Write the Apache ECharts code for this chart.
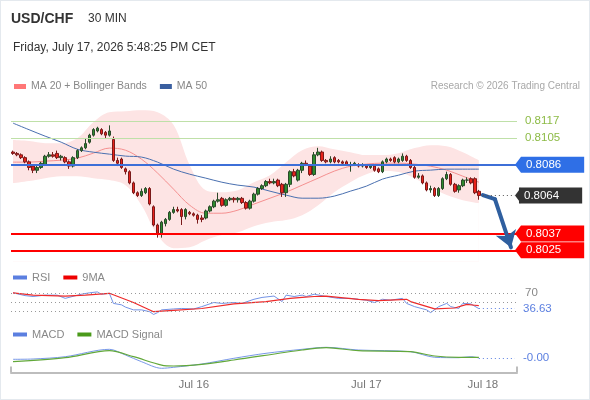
<!DOCTYPE html>
<html>
<head>
<meta charset="utf-8">
<script src="https://cdn.jsdelivr.net/npm/echarts@6/dist/echarts.min.js"></script>
<style>
  html, body { margin: 0; padding: 0; background: #fff; }
  #chart { width: 590px; height: 400px; }
  #frame { position: absolute; left: 0; top: 0; width: 590px; height: 400px; box-sizing: border-box;
           border: 1px solid #e4e9ee; pointer-events: none; }
</style>
</head>
<body>
<div id="chart"></div>
<div id="frame"></div>
<script>
const FONT = "'Liberation Sans', Arial, sans-serif";

// 30 min slots on the time axis (candles + room for the projection)
const slotCount = 126;
const dayTickSlots = [45, 88, 117];
const dayTickLabels = ['Jul 16', 'Jul 17', 'Jul 18'];

// [open, close, low, high]
const candles = [
  [0.8095, 0.8094, 0.8093, 0.8096], [0.8094, 0.8093, 0.8092, 0.8095], [0.8093, 0.8091, 0.8090, 0.8094],
  [0.8091, 0.8088, 0.8087, 0.8092], [0.8088, 0.8084, 0.8082, 0.8089], [0.8085, 0.8082, 0.8080, 0.8086],
  [0.8082, 0.8084, 0.8080, 0.8086], [0.8084, 0.8087, 0.8083, 0.8088], [0.8086, 0.8092, 0.8085, 0.8093],
  [0.8092, 0.8093, 0.8091, 0.8095], [0.8093, 0.8092, 0.8091, 0.8095], [0.8094, 0.8091, 0.8090, 0.8096],
  [0.8091, 0.8092, 0.8089, 0.8093], [0.8091, 0.8088, 0.8087, 0.8092], [0.8088, 0.8085, 0.8083, 0.8089],
  [0.8085, 0.8091, 0.8084, 0.8092], [0.8091, 0.8096, 0.8090, 0.8097], [0.8096, 0.8098, 0.8095, 0.8099],
  [0.8098, 0.8101, 0.8097, 0.8105], [0.8102, 0.8107, 0.8101, 0.8108], [0.8107, 0.8111, 0.8106, 0.8112],
  [0.8110, 0.8112, 0.8109, 0.8113], [0.8111, 0.8108, 0.8107, 0.8112], [0.8109, 0.8107, 0.8105, 0.8110],
  [0.8107, 0.8110, 0.8106, 0.8114], [0.8104, 0.8089, 0.8088, 0.8106], [0.8089, 0.8087, 0.8085, 0.8091],
  [0.8090, 0.8084, 0.8083, 0.8091], [0.8083, 0.8081, 0.8079, 0.8084], [0.8081, 0.8073, 0.8072, 0.8082],
  [0.8073, 0.8066, 0.8065, 0.8074], [0.8066, 0.8064, 0.8063, 0.8067], [0.8064, 0.8067, 0.8063, 0.8069],
  [0.8066, 0.8069, 0.8065, 0.8070], [0.8069, 0.8058, 0.8057, 0.8070], [0.8056, 0.8043, 0.8042, 0.8057],
  [0.8043, 0.8037, 0.8034, 0.8044], [0.8037, 0.8045, 0.8034, 0.8046], [0.8044, 0.8047, 0.8042, 0.8048],
  [0.8047, 0.8052, 0.8046, 0.8053], [0.8052, 0.8054, 0.8051, 0.8056], [0.8054, 0.8053, 0.8052, 0.8056],
  [0.8054, 0.8049, 0.8043, 0.8055], [0.8049, 0.8054, 0.8047, 0.8055], [0.8052, 0.8051, 0.8050, 0.8053],
  [0.8051, 0.8050, 0.8049, 0.8052], [0.8050, 0.8047, 0.8044, 0.8051], [0.8048, 0.8047, 0.8045, 0.8050],
  [0.8048, 0.8053, 0.8047, 0.8054], [0.8053, 0.8056, 0.8052, 0.8057], [0.8056, 0.8060, 0.8055, 0.8061],
  [0.8060, 0.8061, 0.8059, 0.8066], [0.8062, 0.8057, 0.8056, 0.8063], [0.8057, 0.8061, 0.8056, 0.8062],
  [0.8061, 0.8062, 0.8060, 0.8063], [0.8062, 0.8061, 0.8059, 0.8063], [0.8061, 0.8062, 0.8059, 0.8063],
  [0.8062, 0.8059, 0.8058, 0.8063], [0.8059, 0.8055, 0.8054, 0.8060], [0.8055, 0.8060, 0.8054, 0.8061],
  [0.8060, 0.8065, 0.8059, 0.8066], [0.8065, 0.8069, 0.8064, 0.8070], [0.8069, 0.8071, 0.8068, 0.8072],
  [0.8071, 0.8074, 0.8070, 0.8075], [0.8074, 0.8073, 0.8072, 0.8076], [0.8073, 0.8074, 0.8072, 0.8076],
  [0.8075, 0.8071, 0.8070, 0.8076], [0.8072, 0.8066, 0.8063, 0.8073], [0.8066, 0.8072, 0.8063, 0.8073],
  [0.8072, 0.8081, 0.8070, 0.8082], [0.8081, 0.8078, 0.8077, 0.8083], [0.8075, 0.8082, 0.8074, 0.8083],
  [0.8082, 0.8087, 0.8080, 0.8088], [0.8087, 0.8086, 0.8085, 0.8089], [0.8085, 0.8079, 0.8078, 0.8086],
  [0.8079, 0.8093, 0.8078, 0.8095], [0.8093, 0.8095, 0.8092, 0.8098], [0.8095, 0.8089, 0.8088, 0.8096],
  [0.8089, 0.8088, 0.8087, 0.8090], [0.8088, 0.8090, 0.8087, 0.8092], [0.8091, 0.8088, 0.8087, 0.8092],
  [0.8089, 0.8088, 0.8087, 0.8090], [0.8088, 0.8087, 0.8086, 0.8089], [0.8088, 0.8086, 0.8085, 0.8089],
  [0.8086, 0.8086, 0.8081, 0.8088], [0.8086, 0.8087, 0.8085, 0.8088], [0.8086, 0.8085, 0.8084, 0.8087],
  [0.8085, 0.8086, 0.8084, 0.8087], [0.8085, 0.8084, 0.8083, 0.8086], [0.8084, 0.8085, 0.8083, 0.8086],
  [0.8085, 0.8082, 0.8081, 0.8086], [0.8083, 0.8081, 0.8080, 0.8084], [0.8081, 0.8088, 0.8080, 0.8089],
  [0.8088, 0.8090, 0.8087, 0.8091], [0.8090, 0.8089, 0.8088, 0.8091], [0.8091, 0.8088, 0.8087, 0.8092],
  [0.8088, 0.8090, 0.8087, 0.8091], [0.8089, 0.8092, 0.8088, 0.8094], [0.8092, 0.8089, 0.8088, 0.8093],
  [0.8089, 0.8084, 0.8083, 0.8090], [0.8084, 0.8077, 0.8076, 0.8085], [0.8077, 0.8078, 0.8076, 0.8080],
  [0.8078, 0.8073, 0.8072, 0.8079], [0.8073, 0.8068, 0.8067, 0.8074], [0.8068, 0.8069, 0.8066, 0.8071],
  [0.8069, 0.8064, 0.8063, 0.8070], [0.8064, 0.8069, 0.8063, 0.8070], [0.8069, 0.8076, 0.8068, 0.8077],
  [0.8076, 0.8079, 0.8075, 0.8081], [0.8079, 0.8072, 0.8071, 0.8080], [0.8072, 0.8067, 0.8066, 0.8073],
  [0.8068, 0.8071, 0.8066, 0.8072], [0.8071, 0.8075, 0.8070, 0.8076], [0.8075, 0.8075, 0.8073, 0.8077],
  [0.8076, 0.8073, 0.8072, 0.8077], [0.8076, 0.8066, 0.8065, 0.8077], [0.8067, 0.8064, 0.8061, 0.8068]
];

// indicator readings, sampled every 4th slot
const bandSlots = [0, 4, 8, 12, 16, 20, 24, 28, 32, 36, 40, 44, 48, 52, 56, 60, 64, 68, 72, 76, 80, 84, 88, 92, 96, 100, 104, 108, 112, 116];
const ma20 = [0.80878, 0.80878, 0.80885, 0.80892, 0.80906, 0.80942, 0.80978, 0.80963, 0.80899, 0.80800,
  0.80685, 0.80571, 0.80514, 0.80514, 0.80536, 0.80579, 0.80621, 0.80664, 0.80714, 0.80764,
  0.80814, 0.80849, 0.80864, 0.80871, 0.80871, 0.80864, 0.80849, 0.80821, 0.80778, 0.80735];
const bbUpper = [0.81035, 0.81028, 0.81013, 0.81013, 0.81049, 0.81163, 0.81234, 0.81241, 0.81248, 0.81234,
  0.81142, 0.80856, 0.80678, 0.80664, 0.80678, 0.80735, 0.80785, 0.80878, 0.80963, 0.80992,
  0.80970, 0.80949, 0.80928, 0.80928, 0.80942, 0.80978, 0.80999, 0.80992, 0.80949, 0.80892];
const bbLower = [0.80728, 0.80743, 0.80764, 0.80778, 0.80778, 0.80764, 0.80750, 0.80714, 0.80571, 0.80358,
  0.80265, 0.80272, 0.80322, 0.80358, 0.80379, 0.80422, 0.80450, 0.80465, 0.80500, 0.80571,
  0.80664, 0.80735, 0.80792, 0.80814, 0.80807, 0.80764, 0.80700, 0.80643, 0.80607, 0.80586];
const ma50 = [0.81156, 0.81109, 0.81063, 0.81020, 0.80970, 0.80949, 0.80935, 0.80921, 0.80914, 0.80878,
  0.80828, 0.80792, 0.80764, 0.80735, 0.80714, 0.80700, 0.80671, 0.80643, 0.80621, 0.80621,
  0.80636, 0.80671, 0.80707, 0.80757, 0.80785, 0.80814, 0.80821, 0.80828, 0.80828, 0.80828];

// [slot, value]
const rsi = [[0, 71], [3, 65], [5, 63], [8, 66], [11, 66], [13, 59], [17, 68], [19, 71], [21, 73], [22, 68],
  [24, 70], [25, 48], [27, 45], [28, 40], [30, 34], [32, 34], [34, 30], [35, 24], [36, 28], [37, 34],
  [40, 36], [42, 37], [45, 36], [47, 41], [50, 50], [52, 48], [55, 50], [57, 48], [60, 57], [62, 61],
  [65, 64], [67, 52], [68, 66], [70, 63], [72, 66], [73, 63], [75, 68], [78, 63], [81, 59], [84, 59],
  [88, 55], [90, 50], [92, 57], [94, 55], [97, 59], [98, 48], [100, 41], [103, 34], [104, 28], [106, 41],
  [108, 48], [109, 41], [111, 37], [112, 48], [114, 47], [116, 36.63]];
const rsiMa9 = [[0, 71], [5, 66], [13, 64], [18, 66], [24, 70], [30, 50], [35, 30], [40, 33], [47, 37],
  [55, 47], [63, 52], [69, 59], [72, 61], [75, 63], [78, 64], [86, 57], [91, 54], [98, 57], [99, 52],
  [105, 36], [110, 38], [113, 46], [115, 44], [116, 43]];
const macd = [[0, -0.00008], [5, -0.000065], [13, 0.00005], [24, 0.00042], [28, 0.000135], [32, -0.0002],
  [37, -0.00053], [40, -0.00048], [47, -0.000315], [55, -0.00003], [63, 0.00022], [72, 0.00042],
  [78, 0.00052], [86, 0.000385], [99, 0.0003], [105, 0.00002], [111, 0], [114, 0.00005], [116, -0.00001]];
const macdSignal = [[0, -0.0002], [13, 0], [24, 0.00035], [30, 0.00005], [37, -0.00037], [40, -0.000415],
  [47, -0.00033], [55, -0.000115], [72, 0.000385], [78, 0.0005], [86, 0.00035], [99, 0.0003],
  [105, 0.000085], [111, 0.00002], [116, 0.00002]];

// levels and projection
const resistLevels = [0.8117, 0.8105];
const pivotLevel = 0.8086;
const lastPrice = 0.8064;
const supportLevels = [0.8037, 0.8025];
const projection = [[117, 0.80643], [120, 0.80614], [124, 0.8027]];

const categories = Array.from({ length: slotCount }, (_, i) => String(i));
const lastSlot = candles.length - 1;
const endSlot = slotCount - 1;
const pairs = (slots, vals) => slots.map((s, i) => [s, vals[i]]);

const BLUE_TAG = '#2f6fe6', RED_TAG = '#ff0000', DARK_TAG = '#333333';

const tag = (text, bg) => ({
  show: true, position: 'end', distance: 4, formatter: text, color: '#fff', backgroundColor: bg,
  padding: [2, 23, 2, 5], fontSize: 11.5, lineHeight: 12, fontFamily: FONT
});
const plainLabel = (text, color) => ({
  show: true, position: 'end', distance: 8, formatter: text, color: color, fontSize: 11.5, fontFamily: FONT
});
// little arrow tip on the left of each price tag
const tagTip = (slot, value, color) => ({
  coord: [slot, value], symbol: 'triangle', symbolRotate: 90, symbolSize: [16, 6],
  symbolOffset: [3, 0], itemStyle: { color: color }, label: { show: false }
});

const chart = echarts.init(document.getElementById('chart'), null, { renderer: 'canvas' });

const gridBase = { left: 11, right: 73 };
const hiddenX = (g) => ({ type: 'category', gridIndex: g, data: categories, boundaryGap: true, show: false });

const option = {
  animation: false,
  backgroundColor: '#fff',
  textStyle: { fontFamily: FONT },
  title: [
    { text: 'USD/CHF', left: 11, top: 12, padding: 0, textStyle: { fontSize: 14, fontWeight: 'bold', color: '#333', fontFamily: FONT } },
    { text: '30 MIN', left: 88, top: 13, padding: 0, textStyle: { fontSize: 12, fontWeight: 'normal', color: '#333', fontFamily: FONT } },
    { text: 'Friday, July 17, 2026 5:48:25 PM CET', left: 13, top: 42, padding: 0, textStyle: { fontSize: 12, fontWeight: 'normal', color: '#333', fontFamily: FONT } },
    { text: 'Research © 2026 Trading Central', right: 10, top: 81, padding: 0, textStyle: { fontSize: 10, fontWeight: 'normal', color: '#a8a8a8', fontFamily: FONT } }
  ],
  legend: [
    { left: 14, top: 81, padding: 0, itemWidth: 12, itemHeight: 5, itemGap: 13, icon: 'rect', selectedMode: false,
      textStyle: { color: '#888', fontSize: 10.5, fontFamily: FONT },
      data: [{ name: 'MA 20 + Bollinger Bands', itemStyle: { color: '#f77' } }, { name: 'MA 50', itemStyle: { color: '#3a5fa0' } }] },
    { left: 13, top: 272, padding: 0, itemWidth: 14, itemHeight: 4, itemGap: 13, icon: 'rect', selectedMode: false,
      textStyle: { color: '#888', fontSize: 11, fontFamily: FONT },
      data: [{ name: 'RSI', itemStyle: { color: '#5b7fe0' } }, { name: '9MA', itemStyle: { color: '#e00' } }] },
    { left: 13, top: 329, padding: 0, itemWidth: 14, itemHeight: 4, itemGap: 13, icon: 'rect', selectedMode: false,
      textStyle: { color: '#888', fontSize: 11, fontFamily: FONT },
      data: [{ name: 'MACD', itemStyle: { color: '#5b7fe0' } }, { name: 'MACD Signal', itemStyle: { color: '#4a9a1a' } }] }
  ],
  grid: [
    Object.assign({ top: 101.5, height: 160 }, gridBase),
    Object.assign({ top: 279.5, height: 46 }, gridBase),
    Object.assign({ top: 345.7, height: 26.8 }, gridBase)
  ],
  xAxis: [
    hiddenX(0),
    hiddenX(1),
    {
      type: 'category', gridIndex: 2, data: categories, boundaryGap: true,
      axisLine: { show: true, onZero: false, lineStyle: { color: '#bdbdbd', width: 2 } },
      axisTick: { show: true, inside: true, length: 6, lineStyle: { color: '#bdbdbd', width: 2 },
        interval: (idx) => idx === 0 || idx >= slotCount },
      axisLabel: {
        color: '#777', fontSize: 11.5, fontFamily: FONT, margin: 6,
        interval: (idx) => dayTickSlots.indexOf(idx) >= 0,
        formatter: (v, idx) => dayTickLabels[dayTickSlots.indexOf(idx)] || ''
      }
    }
  ],
  yAxis: [
    { type: 'value', gridIndex: 0, min: 0.8017, max: 0.8131, show: false },
    { type: 'value', gridIndex: 1, min: 0, max: 100, show: false },
    { type: 'value', gridIndex: 2, min: -0.00074, max: 0.0006, show: false }
  ],
  series: [
    { name: 'bbUpper', type: 'line', xAxisIndex: 0, yAxisIndex: 0, z: 1, smooth: 0.35, symbol: 'none', silent: true,
      data: pairs(bandSlots, bbUpper), lineStyle: { width: 0 },
      areaStyle: { color: '#fde4e4', opacity: 1, origin: 'start' } },
    { name: 'bbLower', type: 'line', xAxisIndex: 0, yAxisIndex: 0, z: 1, smooth: 0.35, symbol: 'none', silent: true,
      data: pairs(bandSlots, bbLower), lineStyle: { width: 0 },
      areaStyle: { color: '#ffffff', opacity: 1, origin: 'start' } },
    { name: 'MA 20 + Bollinger Bands', type: 'line', xAxisIndex: 0, yAxisIndex: 0, z: 2, smooth: 0.35, symbol: 'none',
      data: pairs(bandSlots, ma20), lineStyle: { width: 1, color: '#f59090' }, itemStyle: { color: '#f77' } },
    { name: 'MA 50', type: 'line', xAxisIndex: 0, yAxisIndex: 0, z: 2, smooth: 0.35, symbol: 'none',
      data: pairs(bandSlots, ma50), lineStyle: { width: 1, color: '#4a70b0' }, itemStyle: { color: '#3a5fa0' } },
    {
      name: 'USD/CHF', type: 'candlestick', xAxisIndex: 0, yAxisIndex: 0, z: 3, barWidth: 3,
      data: candles,
      itemStyle: { color: '#2e8b2e', color0: '#e8221b', borderColor: '#2a4a2a', borderColor0: '#7a1a1a', borderWidth: 1 }
    },
    {
      name: 'levels', type: 'line', xAxisIndex: 0, yAxisIndex: 0, z: 4, symbol: 'none', silent: true,
      data: projection.slice(0, 2),
      lineStyle: { color: '#2f5f9f', width: 4, cap: 'round', join: 'round' },
      markLine: {
        silent: true, symbol: 'none', animation: false, precision: 6,
        data: [
          ...resistLevels.map(v => ({ yAxis: v, lineStyle: { color: '#bfe0a8', width: 1, type: 'solid' },
            label: plainLabel(v.toFixed(4), '#8dbb46') })),
          { yAxis: pivotLevel, lineStyle: { color: '#3d6fd8', width: 2, type: 'solid' }, label: tag(pivotLevel.toFixed(4), BLUE_TAG) },
          ...supportLevels.map(v => ({ yAxis: v, lineStyle: { color: '#ff0000', width: 2, type: 'solid' },
            label: tag(v.toFixed(4), RED_TAG) })),
          [
            { coord: [lastSlot + 1, lastPrice], lineStyle: { color: '#555', width: 1, type: [1, 3] }, label: tag(lastPrice.toFixed(4), DARK_TAG) },
            { coord: [endSlot, lastPrice] }
          ],
          [
            { coord: projection[1], symbol: 'none', lineStyle: { color: '#2f5f9f', width: 4, type: 'solid', cap: 'round' }, label: { show: false } },
            { coord: projection[2], symbol: 'arrow', symbolSize: 16 }
          ]
        ]
      },
      markPoint: {
        silent: true, animation: false,
        data: [
          tagTip(endSlot, pivotLevel, BLUE_TAG),
          tagTip(endSlot, lastPrice, DARK_TAG),
          ...supportLevels.map(v => tagTip(endSlot, v, RED_TAG))
        ]
      }
    },
    {
      name: 'RSI', type: 'line', xAxisIndex: 1, yAxisIndex: 1, symbol: 'none', data: rsi,
      lineStyle: { width: 1, color: '#7393e6' }, itemStyle: { color: '#5b7fe0' },
      markLine: {
        silent: true, symbol: 'none', animation: false, precision: 6,
        data: [
          { yAxis: 70, lineStyle: { color: '#999', width: 1, type: [1, 3] }, label: plainLabel('70', '#888') },
          { yAxis: 50, lineStyle: { color: '#999', width: 1, type: [1, 3] }, label: { show: false } },
          { yAxis: 30, lineStyle: { color: '#999', width: 1, type: [1, 3] }, label: { show: false } },
          [
            { coord: [lastSlot, rsi[rsi.length - 1][1]], lineStyle: { color: '#5b7fe0', width: 1, type: [1, 3] },
              label: plainLabel(rsi[rsi.length - 1][1].toFixed(2), '#5b7fe0') },
            { coord: [endSlot, rsi[rsi.length - 1][1]] }
          ]
        ]
      }
    },
    {
      name: '9MA', type: 'line', xAxisIndex: 1, yAxisIndex: 1, symbol: 'none', data: rsiMa9,
      lineStyle: { width: 1.2, color: '#ee2a2a' }, itemStyle: { color: '#e00' }
    },
    {
      name: 'MACD', type: 'line', xAxisIndex: 2, yAxisIndex: 2, symbol: 'none', smooth: 0.3, data: macd,
      lineStyle: { width: 1, color: '#7898e8' }, itemStyle: { color: '#5b7fe0' },
      markLine: {
        silent: true, symbol: 'none', animation: false, precision: 6,
        data: [[
          { coord: [lastSlot, macd[macd.length - 1][1]], lineStyle: { color: '#5b7fe0', width: 1, type: [1, 3] },
            label: plainLabel(macd[macd.length - 1][1].toFixed(2), '#5b7fe0') },
          { coord: [endSlot, macd[macd.length - 1][1]] }
        ]]
      }
    },
    {
      name: 'MACD Signal', type: 'line', xAxisIndex: 2, yAxisIndex: 2, symbol: 'none', smooth: 0.3, data: macdSignal,
      lineStyle: { width: 1.2, color: '#62a83a' }, itemStyle: { color: '#4a9a1a' }
    }
  ]
};

chart.setOption(option);
</script>
</body>
</html>
